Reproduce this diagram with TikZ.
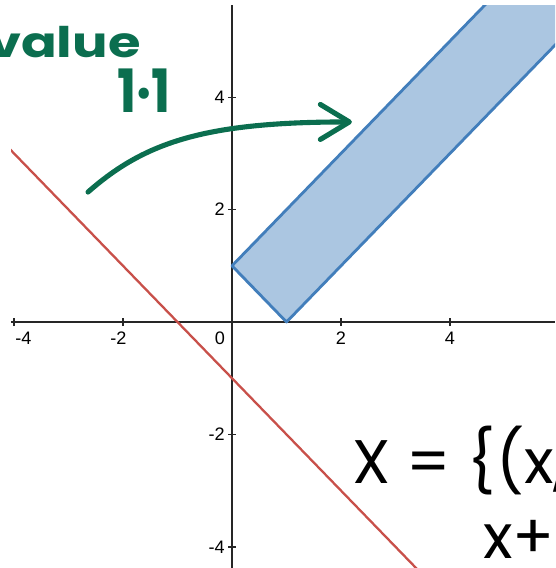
\documentclass[tikz,border=0pt]{standalone}
\usepackage{fontspec}
\setmainfont{Liberation Sans}
\newfontfamily\handfont{Poppins}
\usetikzlibrary{arrows.meta}

\definecolor{plotred}{HTML}{C8504A}
\definecolor{plotblue}{HTML}{2D70B3}
\definecolor{inkgreen}{HTML}{0B6E4F}

\tikzset{
  axisline/.style={line width=0.8pt, black!85},
  ticklabel/.style={font=\fontsize{10.3}{12}\selectfont, inner sep=0pt},
  inkline/.style={inkgreen, line width=2.9pt, line cap=round},
  greenink/.style={text=inkgreen, inner sep=0pt, font=\handfont\bfseries\fontsize{24}{24}\selectfont},
  blackink/.style={text=black, inner sep=0pt, font=\handfont\fontsize{35}{35}\selectfont},
}

\begin{document}
\begin{tikzpicture}[x=1.09cm, y=1.124cm]
\useasboundingbox (-4.257,-4.377) rectangle (5.927,5.730);
\clip (-4.257,-4.377) rectangle (5.927,5.730);

% plot window
\begin{scope}
\clip (-4.055,-4.377) rectangle (5.927,5.64);
\draw[axisline] (-4.055,0) -- (5.927,0);
\draw[axisline] (0,-4.377) -- (0,5.64);

% ticks
\draw[axisline] (-4,-0.071) -- (-4,0.071);
\draw[axisline] (-2,-0.071) -- (-2,0.071);
\draw[axisline] (2,-0.071) -- (2,0.071);
\draw[axisline] (4,-0.071) -- (4,0.071);
\draw[axisline] (-0.073,4) -- (0.073,4);
\draw[axisline] (-0.073,2) -- (0.073,2);
\draw[axisline] (-0.073,-2) -- (0.073,-2);
\draw[axisline] (-0.073,-4) -- (0.073,-4);

% band between the two lines
\filldraw[fill=plotblue!40, draw=plotblue!90!white, line width=1.6pt, line join=round]
  (0,1) -- (1,0) -- (7,6) -- (5,6) -- cycle;

% red line
\draw[plotred, line width=1.3pt] (-5,4) -- (4,-5);
\end{scope}

% tick labels
\node[ticklabel] (xlabm4) at (-3.826,-0.294) {-4};
\node[ticklabel] (xlabm2) at (-2.083,-0.294) {-2};
\node[ticklabel] (xlab0) at (-0.22,-0.294) {0};
\node[ticklabel] (xlab2) at (2,-0.294) {2};
\node[ticklabel] (xlab4) at (4,-0.294) {4};
\node[ticklabel, anchor=east] (ylab4) at (-0.128,4) {4};
\node[ticklabel, anchor=east] (ylab2) at (-0.128,2) {2};
\node[ticklabel, anchor=east] (ylabm2) at (-0.128,-2) {-2};
\node[ticklabel, anchor=east] (ylabm4) at (-0.128,-4) {-4};

% handwritten notes
\node[greenink, anchor=base east, xscale=1.25, transform shape] (valuenote) at (-1.67,4.715) {value};
\node[greenink, anchor=base, font=\handfont\bfseries\fontsize{34}{34}\selectfont, xscale=0.85, transform shape] (ratenote) at (-1.615,3.72) {1·1};
\coordinate (arrowtail) at (-2.642,2.313);
\coordinate (arrowtip) at (2.2,3.56);
\draw[inkline, -{Straight Barb[length=0.58cm, width=0.7cm, round]}]
  (arrowtail) .. controls (-1.6,3.2) and (-0.5,3.56) .. (arrowtip);

\node[blackink, anchor=base west] (setnote) at (2.20,-2.865) {X = \{(x,};
\node[blackink, anchor=base west] (sumnote) at (4.606,-4.2) {x+};
\end{tikzpicture}
\end{document}
